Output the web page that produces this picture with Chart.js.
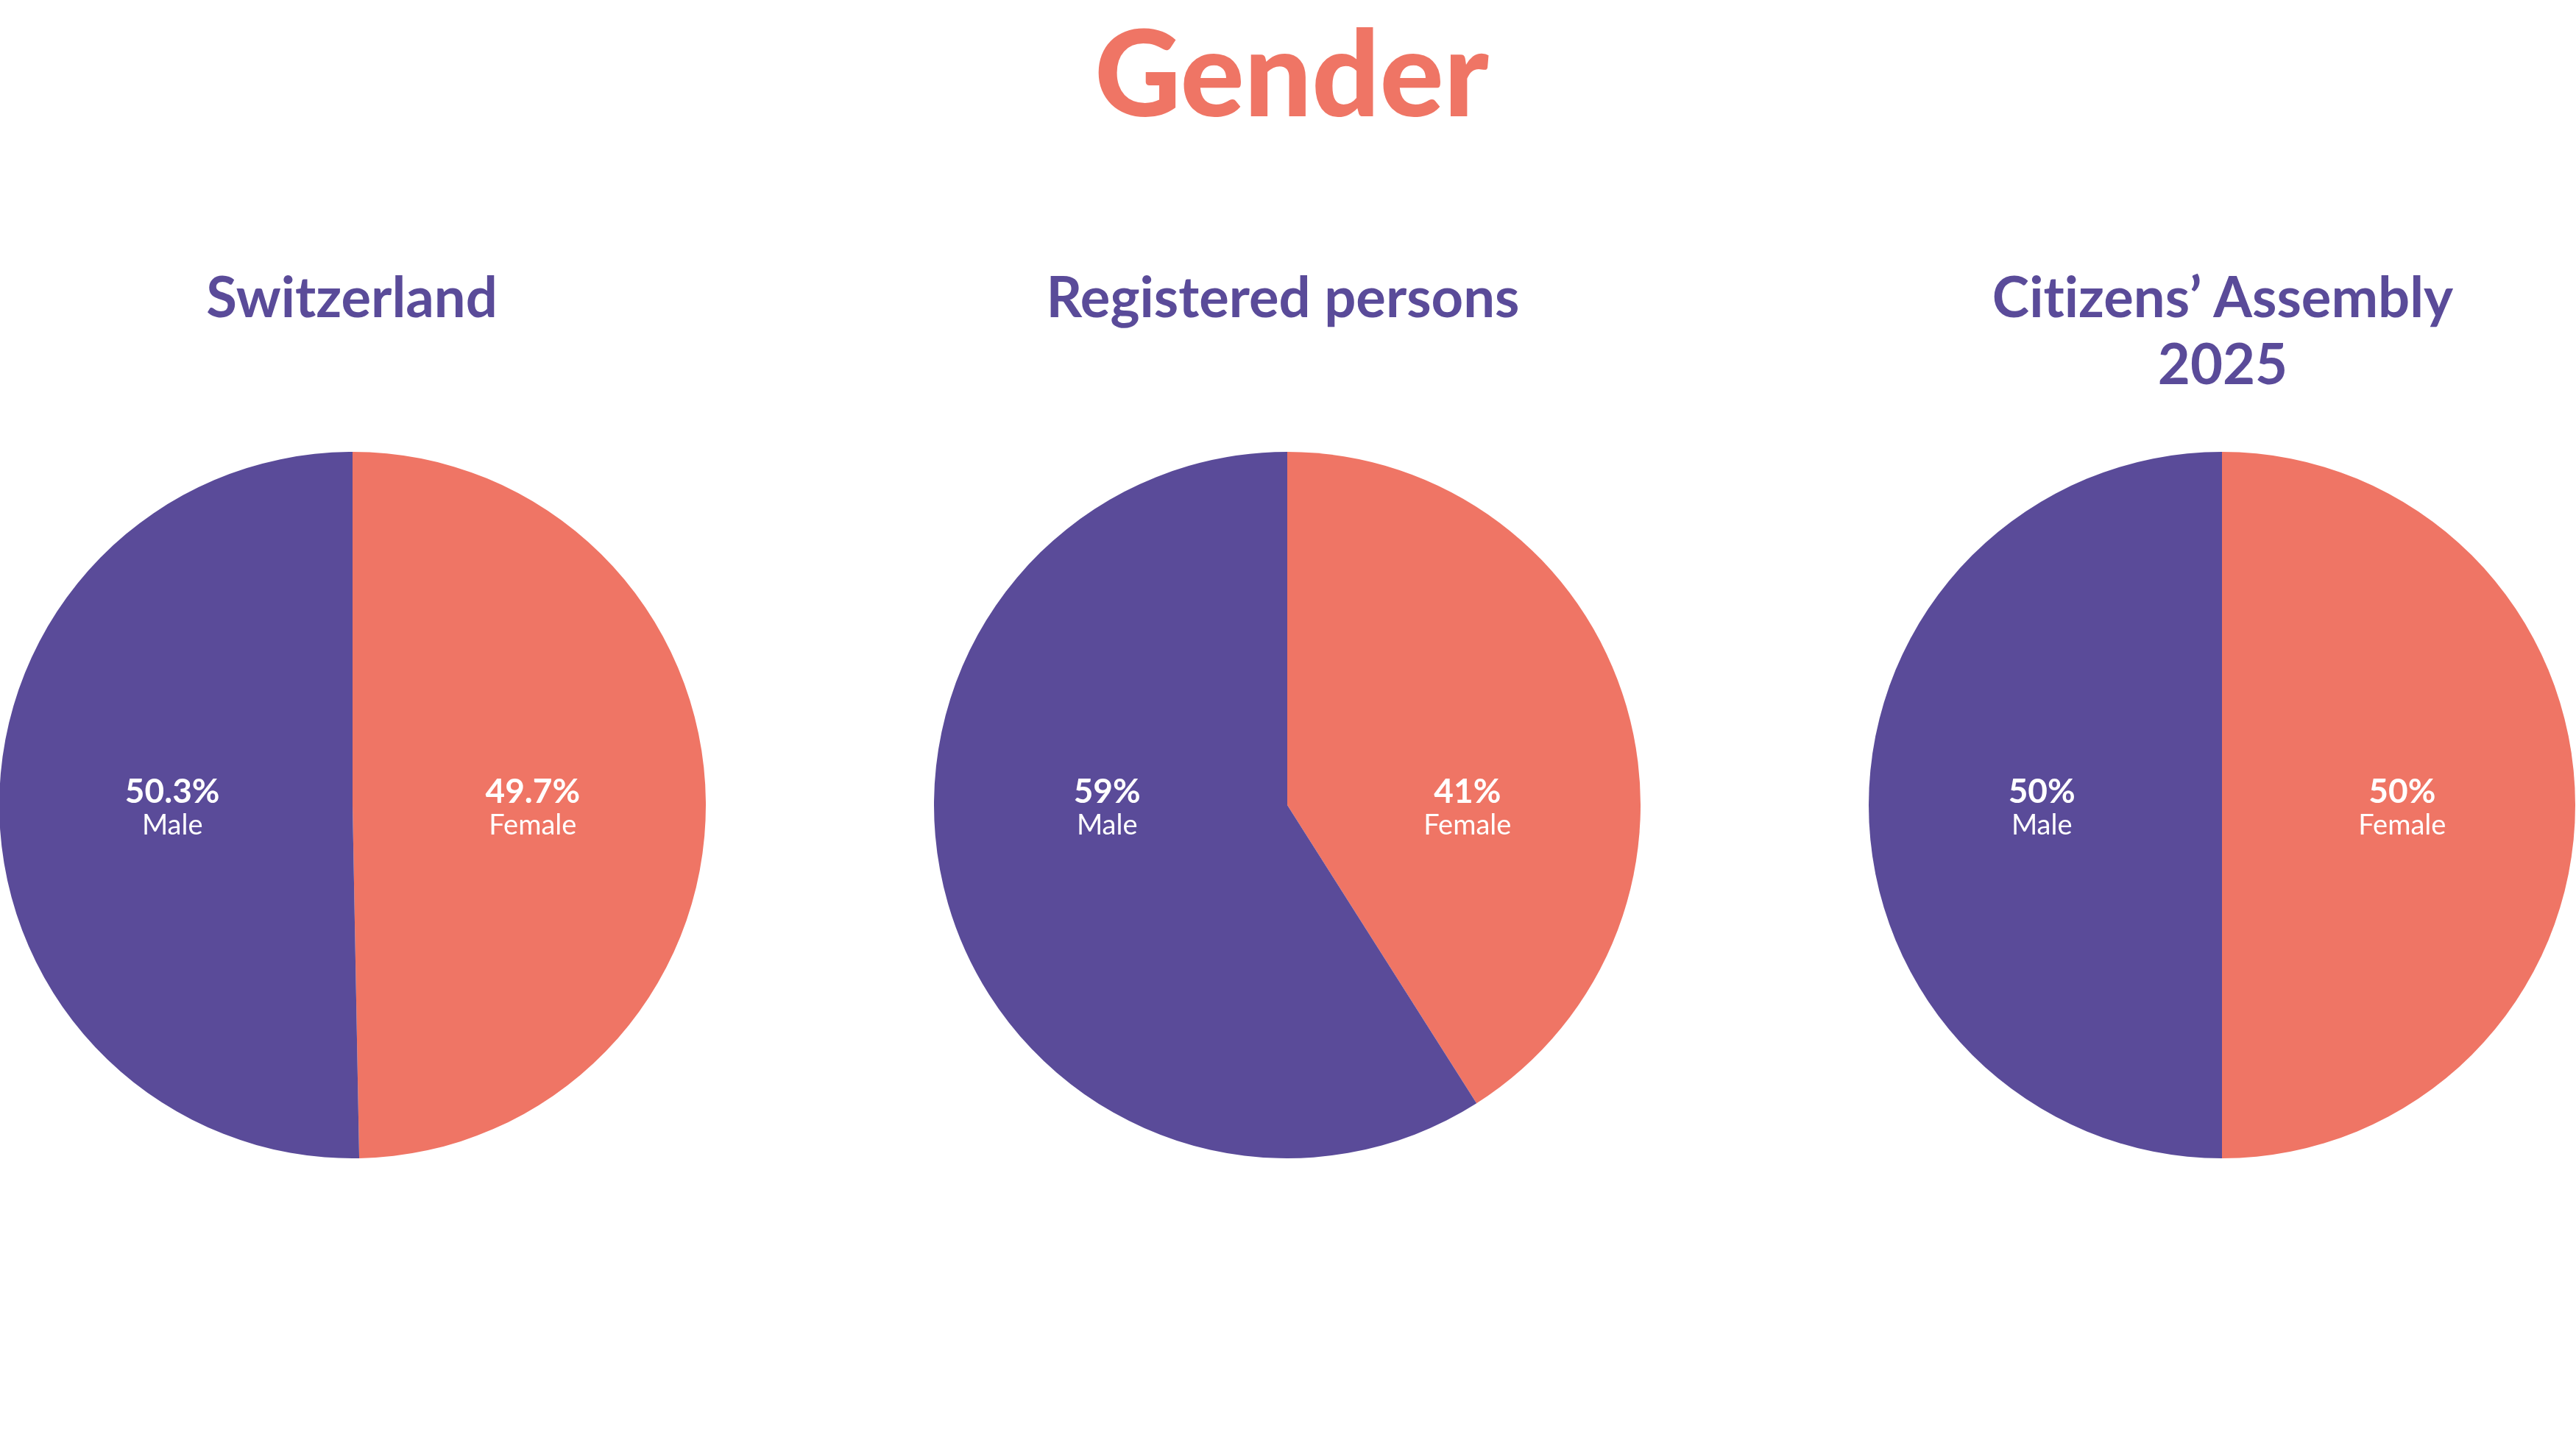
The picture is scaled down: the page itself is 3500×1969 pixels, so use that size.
<!DOCTYPE html>
<html>
<head>
<meta charset="utf-8">
<script src="https://cdn.jsdelivr.net/npm/chart.js@4/dist/chart.umd.min.js"></script>
<style>
  html, body { margin: 0; padding: 0; background: #ffffff; }
  #stage { position: relative; width: 3500px; height: 1969px; overflow: hidden; background: #fff; font-family: Lato, "Noto Sans", sans-serif; font-variant-ligatures: none; font-feature-settings: "liga" 0, "clig" 0; }
  .title { position: absolute; left: 0; width: 3500px; top: 0; text-align: center; color: #EF7565; font-weight: 900; font-size: 162px; line-height: 1; }
  .sub { position: absolute; width: 1000px; text-align: center; color: #5A4B99; font-weight: 700; font-size: 76px; line-height: 91px; }
  canvas { position: absolute; }
</style>
</head>
<body>
<div id="stage">
  <div class="title" id="mainTitle" style="top:15px; left:5px;"></div>
  <div class="sub" id="sub0" style="left:-22px; top:356px;"></div>
  <div class="sub" id="sub1" style="left:1243px; top:356px;"></div>
  <div class="sub" id="sub2" style="left:2520px; top:356px;"></div>
  <canvas id="pie0" width="960" height="960" style="left:-1px; top:614px;"></canvas>
  <canvas id="pie1" width="960" height="960" style="left:1269px; top:614px;"></canvas>
  <canvas id="pie2" width="960" height="960" style="left:2539px; top:614px;"></canvas>
</div>
<script>
// ---- Data ----
const chartTitle = 'Gender';
const groups = ['Switzerland', 'Registered persons', 'Citizens’ Assembly<br>2025'];
const categories = ['Female', 'Male'];
const femaleValues = [49.7, 41, 50];
const maleValues = [50.3, 59, 50];
const colors = ['#EF7565', '#5A4B99'];

document.getElementById('mainTitle').textContent = chartTitle;
groups.forEach((g, i) => { document.getElementById('sub' + i).innerHTML = g; });

const labelPlugin = {
  id: 'sideLabels',
  afterDatasetsDraw(chart) {
    const ctx = chart.ctx;
    const meta = chart.getDatasetMeta(0);
    const ds = chart.data.datasets[0];
    ctx.save();
    ctx.fillStyle = '#ffffff';
    ctx.textAlign = 'center';
    ctx.textBaseline = 'alphabetic';
    meta.data.forEach((arc, i) => {
      const p = arc.getProps(['x', 'y', 'startAngle', 'endAngle', 'outerRadius'], true);
      const mid = (p.startAngle + p.endAngle) / 2;
      const side = Math.cos(mid) >= 0 ? 1 : -1;
      const x = p.x + side * 0.51 * p.outerRadius;
      ctx.font = '700 46px Lato, "Noto Sans", sans-serif';
      ctx.fillText(ds.data[i] + '%', x, p.y - 3);
      ctx.font = '400 38px Lato, "Noto Sans", sans-serif';
      ctx.fillText(chart.data.labels[i], x, p.y + 40);
    });
    ctx.restore();
  }
};

groups.forEach((g, i) => {
  new Chart(document.getElementById('pie' + i), {
    type: 'pie',
    data: {
      labels: categories,
      datasets: [{
        data: [femaleValues[i], maleValues[i]],
        backgroundColor: colors,
        borderWidth: 0
      }]
    },
    options: {
      responsive: false,
      devicePixelRatio: 1,
      animation: false,
      layout: { padding: 0 },
      plugins: { legend: { display: false }, tooltip: { enabled: false }, title: { display: false } }
    },
    plugins: [labelPlugin]
  });
});
</script>
</body>
</html>
